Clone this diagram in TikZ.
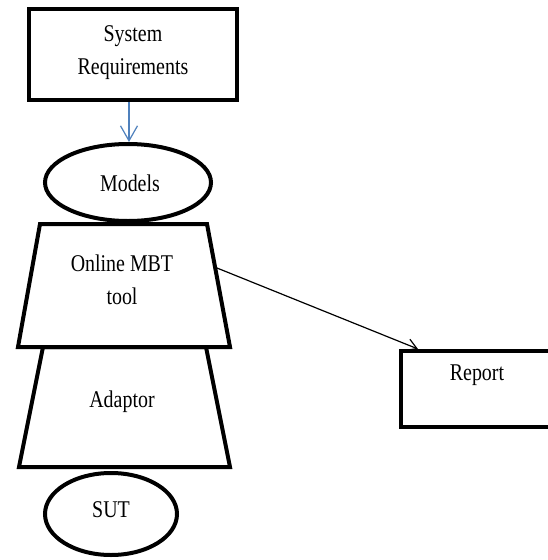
\documentclass[tikz,border=0pt]{standalone}
\usepackage{fontspec}
\setmainfont{Liberation Serif}[FakeStretch=0.83]
\usetikzlibrary{arrows.meta,shapes.geometric}
\definecolor{linkblue}{RGB}{79,129,189}
\tikzset{
  shape outline/.style={line width=4pt, draw=black},
  label text/.style={font=\fontsize{24}{33}\selectfont, align=center, inner sep=0pt},
  flow/.style={line width=1.2pt, -{Straight Barb[length=10pt,width=12pt]}},
}
\begin{document}
\begin{tikzpicture}[x=1pt,y=-1pt]
\clip (0,0) rectangle (548,560);
\fill[white] (0,0) rectangle (548,560);

% boxes and ellipses
\node[shape outline, rectangle, minimum width=208pt, minimum height=91pt, inner sep=0pt] (req) at (133,54.5) {};
\node[shape outline, ellipse, minimum width=166pt, minimum height=77pt, inner sep=0pt] (models) at (128,182.5) {};
\node[shape outline, ellipse, minimum width=132pt, minimum height=82pt, inner sep=0pt] (sut) at (111,514) {};
\node[shape outline, rectangle, minimum width=160pt, minimum height=76pt, inner sep=0pt, anchor=north west] (report) at (399,349) {};

% trapezoids
\draw[shape outline, line join=miter] (40,224) -- (207,224) -- (230,347) -- (18,347) -- cycle;
\draw[shape outline, line join=miter] (43,347) -- (206,347) -- (230,467) -- (19,467) -- cycle;
\coordinate (mbtright) at (217,268);

% labels
\node[label text] (reqtext) at (133,53) {System\\Requirements};
\node[label text] (modelstext) at (130,183) {Models};
\node[label text] (mbttext) at (122,280) {Online MBT\\tool};
\node[label text] (adaptortext) at (122,402) {Adaptor};
\node[label text] (suttext) at (111,510) {SUT};
\node[label text] (reporttext) at (477,375) {Report};

% connectors
\draw[flow, draw=linkblue, -{Straight Barb[length=15pt,width=17pt]}] (req.south -| 129,0) -- (models.north -| 129,0);
\draw[flow] (mbtright) -- (report.north west -| 418,0);
\end{tikzpicture}
\end{document}
